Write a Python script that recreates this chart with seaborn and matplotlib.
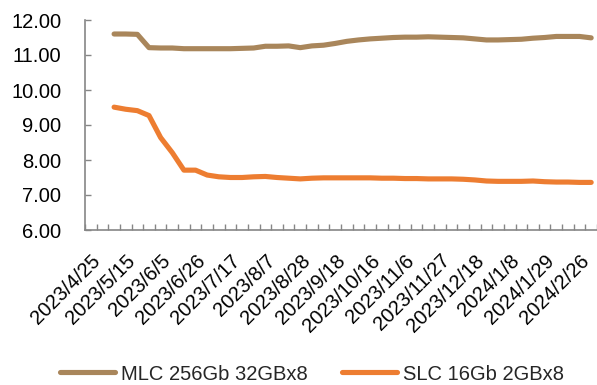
import numpy as np
import pandas as pd
import matplotlib
matplotlib.use("Agg")
import matplotlib.pyplot as plt
from matplotlib.ticker import FixedLocator, FormatStrFormatter
import seaborn as sns

# Weekly quotation dates (category axis)
dates = [
    "2023/4/25", "2023/5/4", "2023/5/8", "2023/5/15", "2023/5/22", "2023/5/29",
    "2023/6/5", "2023/6/12", "2023/6/19", "2023/6/26", "2023/7/3", "2023/7/10",
    "2023/7/17", "2023/7/24", "2023/7/31", "2023/8/7", "2023/8/14", "2023/8/21",
    "2023/8/28", "2023/9/4", "2023/9/11", "2023/9/18", "2023/9/25", "2023/10/9",
    "2023/10/16", "2023/10/23", "2023/10/30", "2023/11/6", "2023/11/13", "2023/11/20",
    "2023/11/27", "2023/12/4", "2023/12/11", "2023/12/18", "2023/12/25", "2024/1/2",
    "2024/1/8", "2024/1/15", "2024/1/22", "2024/1/29", "2024/2/5", "2024/2/19",
    "2024/2/26", "2024/3/4",
]

# Prices (USD); the first two weeks have no quote
mlc_256gb = [
    np.nan, np.nan, 11.60, 11.60, 11.59, 11.21, 11.20, 11.20, 11.18, 11.18,
    11.18, 11.18, 11.18, 11.19, 11.20, 11.25, 11.25, 11.26, 11.21, 11.26,
    11.28, 11.33, 11.39, 11.43, 11.46, 11.48, 11.50, 11.51, 11.51, 11.52,
    11.51, 11.50, 11.49, 11.46, 11.43, 11.43, 11.44, 11.45, 11.48, 11.50,
    11.53, 11.53, 11.53, 11.49,
]
slc_16gb = [
    np.nan, np.nan, 9.51, 9.45, 9.41, 9.27, 8.64, 8.21, 7.71, 7.71,
    7.57, 7.52, 7.50, 7.50, 7.52, 7.53, 7.50, 7.48, 7.46, 7.48,
    7.49, 7.49, 7.49, 7.49, 7.49, 7.48, 7.48, 7.47, 7.47, 7.46,
    7.46, 7.46, 7.45, 7.43, 7.40, 7.39, 7.39, 7.39, 7.40, 7.38,
    7.37, 7.37, 7.36, 7.36,
]

series_names = ["MLC 256Gb 32GBx8", "SLC 16Gb 2GBx8"]
series_colors = ["#A9865B", "#ED7D31"]

sns.set_theme(style="white")
plt.rcParams["font.family"] = ["Liberation Sans", "DejaVu Sans"]

df = pd.DataFrame({
    "idx": np.arange(len(dates)),
    series_names[0]: mlc_256gb,
    series_names[1]: slc_16gb,
})
long_df = df.melt(id_vars="idx", var_name="series", value_name="price").dropna()

fig = plt.figure(figsize=(5.97, 3.85), dpi=100)
ax = fig.add_axes([85 / 597, 1 - 230 / 385, 1 - 85 / 597, (230 - 20) / 385])

sns.lineplot(
    data=long_df, x="idx", y="price", hue="series",
    hue_order=series_names, palette=series_colors,
    linewidth=3.7, ax=ax, legend=True,
)
for line in ax.get_lines():
    line.set_solid_capstyle("round")
    line.set_solid_joinstyle("round")

# Axes ranges and ticks
ax.set_xlim(-0.5, len(dates) - 0.5)
ax.set_ylim(6, 12)
ax.set_yticks(np.arange(6, 12.01, 1))
ax.yaxis.set_major_formatter(FormatStrFormatter("%.2f"))

label_pos = list(range(0, len(dates), 3))
ax.set_xticks(label_pos)
ax.set_xticklabels([dates[i] for i in label_pos], rotation=45,
                   ha="right", rotation_mode="anchor")
ax.xaxis.set_minor_locator(FixedLocator(np.arange(-0.5, len(dates), 1)))

axis_grey = "#868686"
ax.tick_params(axis="x", which="major", length=0, pad=15,
               labelsize=14.5, colors="black")
ax.tick_params(axis="x", which="minor", direction="in", length=4,
               width=1, color=axis_grey, bottom=True)
ax.tick_params(axis="y", direction="in", length=4.5, width=1,
               color=axis_grey, left=True, pad=17, labelsize=14.5,
               labelcolor="black")

for side in ["top", "right"]:
    ax.spines[side].set_visible(False)
for side in ["left", "bottom"]:
    ax.spines[side].set_color(axis_grey)
    ax.spines[side].set_linewidth(1.2)

ax.set_xlabel("")
ax.set_ylabel("")

# Legend below the axis
handles, labels = ax.get_legend_handles_labels()
ax.get_legend().remove()
for h in handles:
    h.set_linewidth(3.7)
    h.set_solid_capstyle("round")
fig.legend(handles, labels, loc="center", ncol=2,
           bbox_to_anchor=(312 / 597, 1 - 374 / 385),
           bbox_transform=fig.transFigure, frameon=False,
           fontsize=14.5, handlelength=2.75, handletextpad=0.3,
           columnspacing=1.7, borderaxespad=0)

fig.savefig("out.png", dpi=100)
